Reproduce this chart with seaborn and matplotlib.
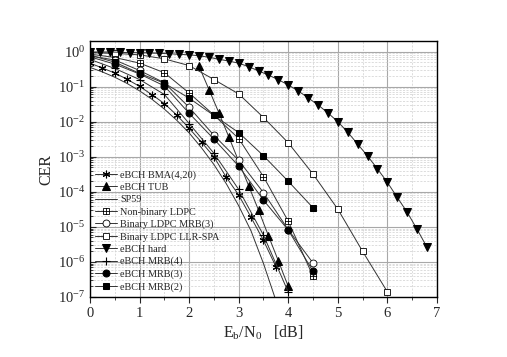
import numpy as np
import matplotlib
matplotlib.use('Agg')
import matplotlib.pyplot as plt
from matplotlib.path import Path
from matplotlib.ticker import LogLocator, NullFormatter, MultipleLocator
import seaborn as sns

# data (CER vs Eb/N0 in dB)
x_bma = [0, 0.25, 0.5, 0.75, 1.0, 1.25, 1.5, 1.75, 2.0, 2.25, 2.5, 2.75, 3.0, 3.25, 3.5, 3.75]
cer_bma = [0.47, 0.34, 0.245, 0.162, 0.102, 0.059, 0.033, 0.0155, 6.5e-3, 2.6e-3,
           1.0e-3, 2.6e-4, 8.1e-5, 1.86e-5, 4.1e-6, 7.4e-7]

x_tub = [2.2, 2.4, 2.6, 2.8, 3.2, 3.4, 3.6, 3.8, 4.0]
cer_tub = [0.38, 0.083, 0.018, 0.0037, 1.5e-4, 3.0e-5, 5.6e-6, 1.07e-6, 2.0e-7]

x_sp59 = [0, 0.25, 0.5, 0.75, 1.0, 1.25, 1.5, 1.75, 2.0, 2.25, 2.5, 2.75, 3.0, 3.25, 3.5, 3.75]
cer_sp59 = [0.355, 0.263, 0.186, 0.123, 0.0759, 0.0437, 0.0229, 0.011, 4.8e-3, 1.8e-3,
            6.0e-4, 1.7e-4, 4.0e-5, 7.6e-6, 9.0e-7, 8.0e-8]

x_half = [0, 0.5, 1.0, 1.5, 2.0, 2.5, 3.0, 3.5, 4.0, 4.5]
cer_nb = [0.85, 0.68, 0.47, 0.25, 0.066, 0.0155, 3.3e-3, 2.7e-4, 1.45e-5, 3.9e-7]
cer_bin_mrb3 = [0.76, 0.575, 0.29, 0.129, 0.0257, 4.1e-3, 7.9e-4, 9.5e-5, 8.3e-6, 9.3e-7]
cer_mrb3 = [0.71, 0.44, 0.23, 0.105, 0.0174, 3.2e-3, 5.4e-4, 5.8e-5, 8.1e-6, 5.4e-7]
cer_mrb2 = [0.79, 0.50, 0.24, 0.126, 0.047, 0.0151, 4.9e-3, 1.07e-3, 2.0e-4, 3.5e-5]

x_llr = [0, 0.5, 1.0, 1.5, 2.0, 2.5, 3.0, 3.5, 4.0, 4.5, 5.0, 5.5, 6.0]
cer_llr = [0.93, 0.89, 0.81, 0.62, 0.40, 0.16, 0.062, 0.0132, 0.0025, 3.2e-4, 3.2e-5, 2.0e-6, 1.4e-7]

x_hard = [0, 0.2, 0.4, 0.6, 0.8, 1.0, 1.2, 1.4, 1.6, 1.8, 2.0, 2.2, 2.4, 2.6, 2.8, 3.0, 3.2, 3.4,
          3.6, 3.8, 4.0, 4.2, 4.4, 4.6, 4.8, 5.0, 5.2, 5.4, 5.6, 5.8, 6.0, 6.2, 6.4, 6.6, 6.8]
cer_hard = [0.977, 0.977, 0.977, 0.955, 0.933, 0.933, 0.912, 0.891, 0.871, 0.832, 0.813, 0.759,
            0.692, 0.603, 0.537, 0.468, 0.372, 0.282, 0.214, 0.158, 0.112, 0.0759, 0.0479, 0.0302,
            0.0178, 0.010, 5.0e-3, 2.3e-3, 1.05e-3, 4.5e-4, 1.86e-4, 6.9e-5, 2.6e-5, 8.5e-6, 2.6e-6]

x_mrb4 = [0, 0.5, 1.0, 1.5, 2.0, 2.5, 3.0, 3.5, 4.0]
cer_mrb4 = [0.60, 0.33, 0.16, 0.060, 8.9e-3, 1.26e-3, 1.17e-4, 5.8e-6, 1.38e-7]

# boxed plus marker (square with a cross inside)
boxplus = Path([(-1, -1), (1, -1), (1, 1), (-1, 1), (-1, -1), (0, -1), (0, 1), (-1, 0), (1, 0)],
               [Path.MOVETO, Path.LINETO, Path.LINETO, Path.LINETO, Path.CLOSEPOLY,
                Path.MOVETO, Path.LINETO, Path.MOVETO, Path.LINETO])

sns.set_style('ticks')
plt.rcParams['font.family'] = ['Liberation Serif', 'DejaVu Serif']
plt.rcParams['mathtext.fontset'] = 'custom'
plt.rcParams['mathtext.rm'] = 'Liberation Serif'
plt.rcParams['mathtext.it'] = 'Liberation Serif:italic'

fig = plt.figure(figsize=(5.07, 3.57), dpi=100)
ax = fig.add_axes([0.1775, 0.168, 0.6844, 0.717])

lc = '#333333'
ms = 4.5
series = [
    (x_bma, cer_bma, 'eBCH BMA(4,20)', dict(marker=(6, 2, 0), mfc='k', mec='k', ms=5.5, mew=0.8)),
    (x_tub, cer_tub, 'eBCH TUB', dict(marker='^', mfc='k', mec='k', ms=5.2)),
    (x_sp59, cer_sp59, 'SP59', dict(marker='')),
    (x_half, cer_nb, 'Non-binary LDPC', dict(marker=boxplus, mfc='white', mec='k', ms=ms, mew=0.6)),
    (x_half, cer_bin_mrb3, 'Binary LDPC MRB(3)', dict(marker='o', mfc='white', mec='k', ms=5, mew=0.6)),
    (x_llr, cer_llr, 'Binary LDPC LLR-SPA', dict(marker='s', mfc='white', mec='k', ms=ms, mew=0.6)),
    (x_hard, cer_hard, 'eBCH hard', dict(marker='v', mfc='k', mec='k', ms=5.2)),
    (x_mrb4, cer_mrb4, 'eBCH MRB(4)', dict(marker='+', mfc='k', mec='k', ms=6, mew=0.8)),
    (x_half, cer_mrb3, 'eBCH MRB(3)', dict(marker='o', mfc='k', mec='k', ms=5)),
    (x_half, cer_mrb2, 'eBCH MRB(2)', dict(marker='s', mfc='k', mec='k', ms=ms)),
]

for xs, ys, name, kw in series:
    sns.lineplot(x=xs, y=ys, ax=ax, label=name, color=lc, linewidth=0.7, sort=False, **kw)

ax.set_yscale('log')
ax.set_xlim(0, 7)
ax.set_ylim(1e-7, 2)

ax.xaxis.set_major_locator(MultipleLocator(1))
ax.xaxis.set_minor_locator(MultipleLocator(0.5))
ax.yaxis.set_major_locator(LogLocator(base=10, numticks=12))
ax.yaxis.set_minor_locator(LogLocator(base=10, subs=np.arange(2, 10), numticks=12))
ax.yaxis.set_minor_formatter(NullFormatter())

# grid
ax.grid(which='major', color='#a8a8a8', linewidth=0.8, linestyle='-')
ax.grid(which='minor', color='#cfcfcf', linewidth=0.5, linestyle=(0, (3, 2)))
ax.set_axisbelow(True)

ax.tick_params(axis='x', which='both', direction='out', labelsize=10.5)
ax.tick_params(axis='x', which='major', length=4)
ax.tick_params(axis='x', which='minor', length=2.5)
ax.tick_params(axis='y', which='both', direction='in', labelsize=10.5)
ax.tick_params(axis='y', which='major', length=4)
ax.tick_params(axis='y', which='minor', length=2)
for sp in ax.spines.values():
    sp.set_linewidth(1.0)
    sp.set_color('k')

ax.set_xlabel(r'E$_\mathrm{b}$/N$_\mathrm{0}$   [dB]', fontsize=11.5, labelpad=2)
ax.set_ylabel('CER', fontsize=11.5, labelpad=2)

ax.legend(loc='lower left', bbox_to_anchor=(0.0, 0.0), frameon=False, fontsize=7.4,
          labelspacing=0.3, handlelength=2.1, handletextpad=0.35, borderaxespad=0.3,
          borderpad=0.2)

fig.savefig('out.png', dpi=100)
